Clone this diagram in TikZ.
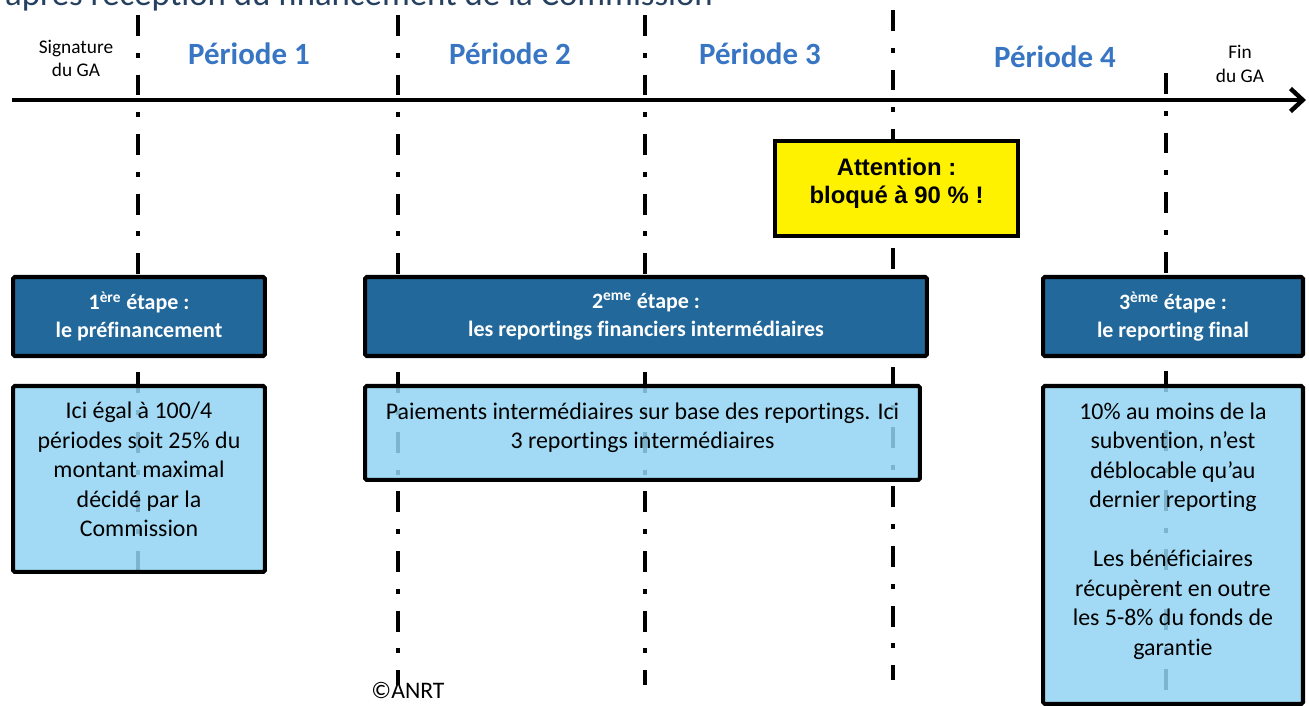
\documentclass[tikz,border=0pt]{standalone}
\usepackage{fontspec}
\setmainfont{Carlito}[Ligatures=NoCommon]
\newfontfamily\arialfont{Liberation Sans}
\usetikzlibrary{arrows.meta,positioning}
\definecolor{stepblue}{RGB}{34,104,154}
\definecolor{infoblue}{RGB}{146,212,243}
\definecolor{periodblue}{RGB}{56,118,196}
\definecolor{titlegrey}{RGB}{38,64,96}

\tikzset{
  stepbox/.style={draw=black,line width=2.3pt,fill=stepblue,text=white,rounded corners=1pt,
    align=center,inner sep=0pt,minimum height=1.58cm,font=\bfseries\fontsize{12.5}{15.9}\selectfont},
  infobox/.style={draw=black,line width=2.3pt,fill=infoblue,fill opacity=0.85,text opacity=1,
    rounded corners=1pt,inner sep=0pt,font=\fontsize{13.6}{16.8}\selectfont},
  warnbox/.style={draw=black,line width=2.3pt,fill=yellow,inner sep=0pt,
    font=\arialfont\bfseries\fontsize{13.6}{15.9}\selectfont},
  periodlabel/.style={anchor=base,text=periodblue,font=\bfseries\fontsize{17.6}{21}\selectfont},
  gridline/.style={line width=2.3pt,dash pattern=on 11.9pt off 9.6pt on 2.8pt off 9.6pt},
  gatext/.style={align=center,font=\fontsize{11}{13.2}\selectfont}
}
% box of fixed size, text from the top
\newcommand\boxtext[4]{\parbox[c][#1][t]{#2}{\centering\rule{0pt}{#3}#4}}

\begin{document}
\begin{tikzpicture}[x=0.02cm,y=-0.02cm]
\useasboundingbox (0,0) rectangle (1309,706);
\clip (0,0) rectangle (1309,706);

\node[anchor=base west,text=titlegrey,font=\fontsize{19.8}{24}\selectfont] (title) at (-1,5.5)
  {après réception du financement de la Commission};

% periods
\draw[gridline] (138,15) -- (138,570);
\draw[gridline] (398,15) -- (398,685);
\draw[gridline] (645,15) -- (645,685);
\draw[gridline] (893,10) -- (893,680);
\draw[gridline] (1166,73) -- (1166,693);

\coordinate (axstart) at (12,100);
\coordinate (axend) at (1306,100);
\draw[line width=2.5pt,-{Straight Barb[length=7pt,width=13pt]}] (axstart) -- (axend);

\node[gatext] (signature) at (76,58.5) {Signature\\du GA};
\node[gatext] (fin) at (1240,64) {Fin\\du GA};

\node[periodlabel] (p1) at (249,65) {Période 1};
\node[periodlabel] (p2) at (510,65) {Période 2};
\node[periodlabel] (p3) at (760,65) {Période 3};
\node[periodlabel] (p4) at (1055,68) {Période 4};

\node[warnbox] (warn) at (896.5,188.5)
  {\boxtext{1.9cm}{4.86cm}{19.6pt}{Attention :\\bloqué à 90 \% !}};

% steps
\node[stepbox,minimum width=5.04cm] (step1) at (139,316.5)
  {1\textsuperscript{ère} étape :\\le préfinancement};
\node[stepbox,minimum width=11.24cm] (step2) at (646,316.5)
  {2\textsuperscript{eme} étape :\\les reportings financiers intermédiaires};
\node[stepbox,minimum width=5.2cm] (step3) at (1173,316.5)
  {3\textsuperscript{ème} étape :\\le reporting final};

\node[infobox,below of=step1,node distance=3.25cm] (info1)
  {\boxtext{3.72cm}{5.04cm}{18.5pt}{Ici égal à 100/4\\périodes soit 25\% du\\montant maximal\\décidé par la\\Commission}};
\node[infobox,below of=step2,node distance=2.33cm,xshift=-0.07cm] (info2)
  {\boxtext{1.88cm}{11.1cm}{19pt}{Paiements intermédiaires sur base des reportings. Ici\\3 reportings intermédiaires}};
\node[infobox,below of=step3,node distance=4.57cm] (info3)
  {\boxtext{6.36cm}{5.2cm}{19pt}{10\% au moins de la\\subvention, n’est\\déblocable qu’au\\dernier reporting\\[16.8pt]Les bénéficiaires\\récupèrent en outre\\les 5-8\% du fonds de\\garantie}};

\node[anchor=base,font=\fontsize{13.5}{15}\selectfont] (copy) at (408,698) {©ANRT};
\end{tikzpicture}
\end{document}
